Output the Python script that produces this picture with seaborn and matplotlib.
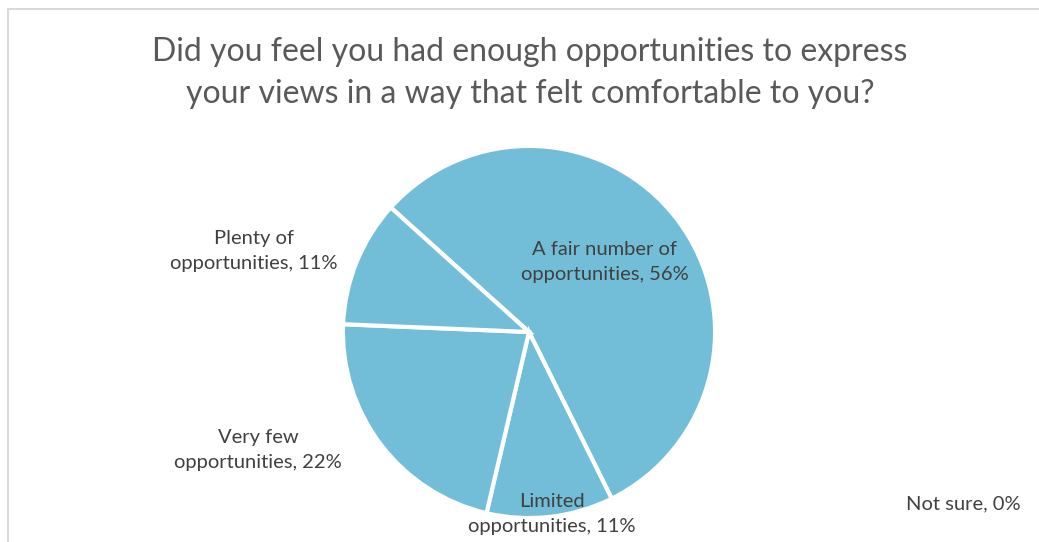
import matplotlib
matplotlib.use("Agg")
import matplotlib.pyplot as plt
import seaborn as sns
from matplotlib.patches import Rectangle

sns.set_theme(style="white")
plt.rcParams['font.family'] = ['Lato', 'DejaVu Sans']

title = "Did you feel you had enough opportunities to express\nyour views in a way that felt comfortable to you?"
categories = ["A fair number of\nopportunities", "Limited\nopportunities",
              "Very few\nopportunities", "Plenty of\nopportunities", "Not sure"]
percents = [56, 11, 22, 11, 0]
# label anchor positions in figure pixels (x from left, y from top)
label_px = [(605, 262), (552, 514), (258, 450), (254, 251), (963, 504)]

slice_color = "#72BED8"
text_color = "#404040"

W, H = 1039, 542
fig = plt.figure(figsize=(W / 100, H / 100), dpi=100)

cx, cy, r = 529, 332, 187
ax = fig.add_axes([(cx - r) / W, (H - cy - r) / H, 2 * r / W, 2 * r / H])
vals = [v for v in percents if v > 0]
ax.pie(vals, colors=[slice_color] * len(vals), startangle=138, counterclock=False,
       radius=1.0, wedgeprops=dict(edgecolor="white", linewidth=3))
ax.set_xlim(-1.005, 1.005)
ax.set_ylim(-1.005, 1.005)
ax.set_aspect("equal")
ax.axis("off")

for cat, p, (x, y) in zip(categories, percents, label_px):
    txt = f"{cat}, {p}%"
    fig.text(x / W, 1 - y / H, txt, ha="center", va="center", fontsize=14.5,
             color=text_color, linespacing=1.62)

fig.text(530 / W, 1 - 73 / H, title, ha="center", va="center", fontsize=23,
         color="#595959", linespacing=1.52)

fig.patches.append(Rectangle((8 / W, -0.05), 1.1, 1.05 - 9 / H, transform=fig.transFigure,
                             fill=False, edgecolor="#d9d9d9", linewidth=1.5))

fig.savefig("out.png", dpi=100, facecolor="white")
